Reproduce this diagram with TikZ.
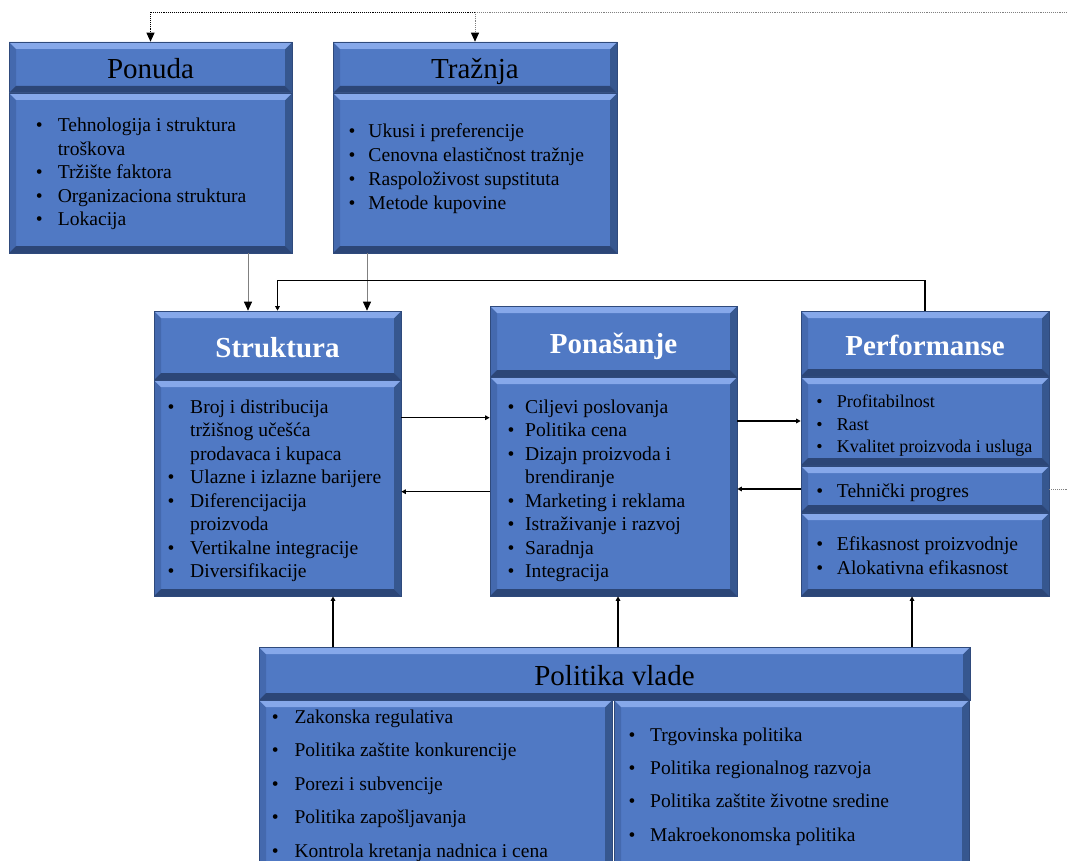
\documentclass[tikz,border=0pt]{standalone}
\usepackage{fontspec}
\setmainfont{Liberation Serif}
\usetikzlibrary{arrows.meta,calc}
\definecolor{scpblue}{HTML}{5079C4}
\definecolor{scplight}{HTML}{86A8EA}
\definecolor{scpdark}{HTML}{2C4677}
\definecolor{scpleft}{HTML}{4469AE}
\definecolor{scpright}{HTML}{36578F}
\definecolor{scpedge}{HTML}{2F4A7C}
\definecolor{scpgrey}{HTML}{808080}
\newlength{\bulw}
\newcommand{\bl}{\makebox[\bulw][l]{\textbullet}}
\newcommand{\cn}{\hspace*{\bulw}}
\begin{document}
\begin{tikzpicture}[x=1pt,y=-1pt,
  bev/.style={draw=scpedge,line width=0.6pt,fill=scpblue,inner sep=0pt,
    path picture={
      \path (path picture bounding box.north west) coordinate (nw)
            (path picture bounding box.north east) coordinate (ne)
            (path picture bounding box.south west) coordinate (sw)
            (path picture bounding box.south east) coordinate (se);
      \fill[scpleft] (nw) -- ([shift={(7pt,-7pt)}]nw) -- ([shift={(7pt,7pt)}]sw) -- (sw) -- cycle;
      \fill[scpright] (ne) -- ([shift={(-7pt,-7pt)}]ne) -- ([shift={(-7pt,7pt)}]se) -- (se) -- cycle;
      \fill[scplight] (nw) -- (ne) -- ([shift={(-7pt,-7pt)}]ne) -- ([shift={(7pt,-7pt)}]nw) -- cycle;
      \fill[scpdark] (sw) -- (se) -- ([shift={(-7pt,7pt)}]se) -- ([shift={(7pt,7pt)}]sw) -- cycle;
    }},
  hd/.style={bev,text height=23pt,text depth=0pt,font=\fontsize{29}{34}\selectfont},
  hdb/.style={hd,text=white,font=\fontsize{29}{34}\selectfont\bfseries},
  lst/.style={anchor=north west,align=left,inner sep=0pt,font=\fontsize{19.6}{23.5}\selectfont},
  bw/.style={execute at begin node={\setlength{\bulw}{#1}}},
  conn/.style={line width=1.4pt,-{Triangle[length=4.5pt,width=4.5pt]}},
  feed/.style={draw=scpgrey,line width=0.9pt,-{Triangle[length=9pt,width=8pt,color=black]}},
  dotk/.style={densely dotted,line width=0.9pt},
  dotg/.style={densely dotted,line width=0.9pt,draw=scpgrey}
]
\useasboundingbox (0,0) rectangle (1067,861);
\clip (0,0) rectangle (1067,861);

\node[hd,minimum width=283pt,minimum height=51pt] (ponudaH) at (150.5,67.5) {Ponuda};
\node[bev,minimum width=283pt,minimum height=160pt] (ponudaB) at (150.5,173) {};
\node[lst,bw=22pt] (ponudaL) at (35.6,118) {\bl Tehnologija i struktura\\\cn troškova\\\bl Tržište faktora\\\bl Organizaciona struktura\\\bl Lokacija};

\node[hd,minimum width=284pt,minimum height=51pt] (traznjaH) at (475,67.5) {Tražnja};
\node[bev,minimum width=284pt,minimum height=160pt] (traznjaB) at (475,173) {};
\node[lst,bw=20pt,font=\fontsize{19.6}{24}\selectfont] (traznjaL) at (348.3,123) {\bl Ukusi i preferencije\\\bl Cenovna elastičnost tražnje\\\bl Raspoloživost supstituta\\\bl Metode kupovine};

\node[hdb,minimum width=247pt,minimum height=69pt] (strukH) at (277.5,345.5) {Struktura};
\node[bev,minimum width=247pt,minimum height=216pt] (strukB) at (277.5,488) {};
\node[lst,bw=22.7pt] (strukL) at (167.3,399.6) {\bl Broj i distribucija\\\cn tržišnog učešća\\\cn prodavaca i kupaca\\\bl Ulazne i izlazne barijere\\\bl Diferencijacija\\\cn proizvoda\\\bl Vertikalne integracije\\\bl Diversifikacije};

\node[hdb,minimum width=247pt,minimum height=71pt] (ponasH) at (613.5,341.5) {Ponašanje};
\node[bev,minimum width=247pt,minimum height=219pt] (ponasB) at (613.5,486.5) {};
\node[lst,bw=17.7pt] (ponasL) at (507.3,399.3) {\bl Ciljevi poslovanja\\\bl Politika cena\\\bl Dizajn proizvoda i\\\cn brendiranje\\\bl Marketing i reklama\\\bl Istraživanje i razvoj\\\bl Saradnja\\\bl Integracija};

\node[hdb,minimum width=248pt,minimum height=65pt] (perfH) at (925,343.5) {Performanse};
\node[bev,minimum width=248pt,minimum height=88pt] (perfA) at (925,421) {};
\node[bev,minimum width=248pt,minimum height=46pt] (perfT) at (925,489) {};
\node[bev,minimum width=248pt,minimum height=83pt] (perfE) at (925,554.5) {};
\node[lst,bw=20.6pt,font=\fontsize{18}{22.5}\selectfont] (perfAL) at (816.1,395) {\bl Profitabilnost\\\bl Rast\\\bl Kvalitet proizvoda i usluga};
\node[lst,bw=20.6pt] (perfTL) at (816.1,484) {\bl Tehnički progres};
\node[lst,bw=20.6pt] (perfEL) at (816.1,536.6) {\bl Efikasnost proizvodnje\\\bl Alokativna efikasnost};

\node[hd,minimum width=711pt,minimum height=53pt] (vladaH) at (614.5,673.5) {Politika vlade};
\node[bev,minimum width=353pt,minimum height=180pt] (vladaL) at (435.5,790) {};
\node[bev,minimum width=355pt,minimum height=180pt] (vladaR) at (791.5,790) {};
\node[lst,bw=22.7pt,font=\fontsize{19.5}{33.5}\selectfont] (vladaLL) at (271.6,709.3) {\bl Zakonska regulativa\\\bl Politika zaštite konkurencije\\\bl Porezi i subvencije\\\bl Politika zapošljavanja\\\bl Kontrola kretanja nadnica i cena};
\node[lst,bw=21.7pt,font=\fontsize{19.5}{33.4}\selectfont] (vladaRL) at (628.3,727.3) {\bl Trgovinska politika\\\bl Politika regionalnog razvoja\\\bl Politika zaštite životne sredine\\\bl Makroekonomska politika};

\coordinate (edgeT) at (1067,12);
\coordinate (edgeR) at (1067,489);
\draw[dotg] (edgeT) -- (edgeT -| traznjaH.north);
\draw[dotg,-{Triangle[length=9pt,width=8pt,color=black]}] (edgeT -| traznjaH.north) -- (traznjaH.north);
\draw[dotk,-{Triangle[length=9pt,width=8pt]}] (edgeT -| traznjaH.north) -- (edgeT -| ponudaH.north) -- (ponudaH.north);
\draw[dotg] (perfT.east) -- (perfT.east -| edgeR);

\draw[feed] ([xshift=97.5pt]ponudaB.south) coordinate (p1) -- (p1 |- strukH.north);
\draw[feed] ([xshift=-108pt]traznjaB.south) coordinate (t1) -- (t1 |- strukH.north);
\draw[conn] (perfH.north) -- ++(0,-30) -| (strukH.north);

\draw[conn] ([yshift=-38pt]strukB.north east) coordinate (s1) -- (s1 -| ponasB.west);
\path ([yshift=-112pt]strukB.north east) coordinate (s2);
\draw[conn] (s2 -| ponasB.west) -- (s2);
\draw[conn] (perfA.west -| ponasB.east) -- (perfA.west);
\draw[conn] (perfT.west) -- (perfT.west -| ponasB.east);

\path ([xshift=55.5pt]strukB.south) coordinate (u1)
      ([xshift=4.5pt]ponasB.south) coordinate (u2)
      ([xshift=-13pt]perfE.south) coordinate (u3);
\foreach \u in {u1,u2,u3}
  \draw[conn] (\u |- vladaH.north) -- (\u);
\end{tikzpicture}
\end{document}
